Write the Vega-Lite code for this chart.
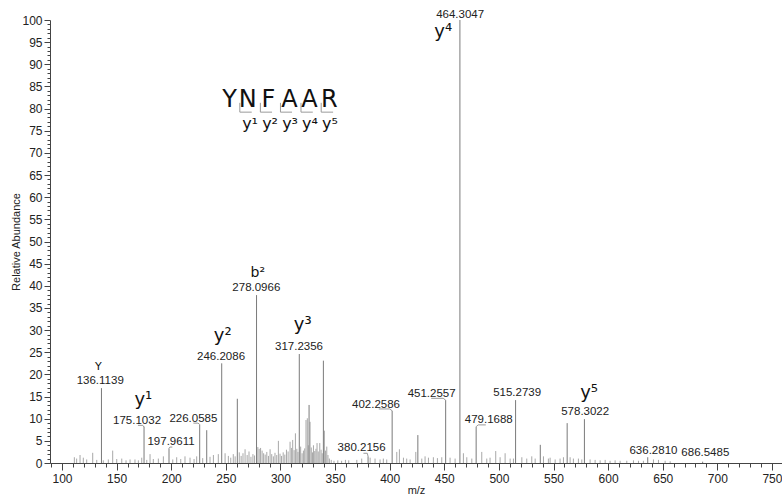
{
  "$schema": "https://vega.github.io/schema/vega-lite/v6.json",
  "width": 732,
  "height": 443,
  "autosize": {"type": "none"},
  "padding": {"left": 50, "top": 20, "right": 0, "bottom": 34},
  "background": "white",
  "config": {
    "view": {"stroke": null},
    "font": "Liberation Sans",
    "axis": {
      "domainColor": "#444",
      "tickColor": "#444",
      "labelColor": "#222",
      "titleColor": "#222",
      "labelFont": "Liberation Sans",
      "titleFont": "Liberation Sans",
      "labelFontSize": 12,
      "titleFontSize": 11,
      "titleFontWeight": "normal",
      "grid": false,
      "labelOverlap": false,
      "labelFlush": false
    }
  },
  "datasets": {
    "major": [
      {"mz": 136.1139, "int": 16.9},
      {"mz": 175.1032, "int": 8.2},
      {"mz": 197.9611, "int": 3.3},
      {"mz": 226.0585, "int": 8.7},
      {"mz": 232.5, "int": 7.4},
      {"mz": 246.2086, "int": 22.5},
      {"mz": 260.5, "int": 14.5},
      {"mz": 278.0966, "int": 37.9},
      {"mz": 317.2356, "int": 24.6},
      {"mz": 326.2, "int": 13.1},
      {"mz": 339.3, "int": 23.1},
      {"mz": 380.2156, "int": 1.5},
      {"mz": 402.2586, "int": 11.8},
      {"mz": 425.8, "int": 6.3},
      {"mz": 451.2557, "int": 14.2},
      {"mz": 464.3047, "int": 100},
      {"mz": 479.1688, "int": 8.2},
      {"mz": 515.2739, "int": 14.2},
      {"mz": 537.9, "int": 4.1},
      {"mz": 562.5, "int": 9.0},
      {"mz": 578.3022, "int": 9.9},
      {"mz": 636.281, "int": 1.3},
      {"mz": 686.5485, "int": 0.3}
    ],
    "noise": [
      {"mz": 111.3, "int": 1.3}, {"mz": 113.4, "int": 1.0}, {"mz": 116.5, "int": 1.8},
      {"mz": 119.5, "int": 1.2}, {"mz": 122.6, "int": 0.8}, {"mz": 128.1, "int": 2.3},
      {"mz": 131.8, "int": 0.7}, {"mz": 137.8, "int": 0.6}, {"mz": 142.4, "int": 0.8},
      {"mz": 146.4, "int": 2.8}, {"mz": 150.1, "int": 0.9}, {"mz": 154.7, "int": 1.0},
      {"mz": 158.6, "int": 0.6}, {"mz": 162.3, "int": 0.8}, {"mz": 166.8, "int": 0.8},
      {"mz": 169.9, "int": 0.6}, {"mz": 173.0, "int": 1.2}, {"mz": 177.6, "int": 0.7},
      {"mz": 180.6, "int": 2.0}, {"mz": 183.6, "int": 0.9}, {"mz": 188.2, "int": 1.0},
      {"mz": 192.8, "int": 1.5}, {"mz": 201.4, "int": 0.8}, {"mz": 205.0, "int": 1.3},
      {"mz": 208.7, "int": 0.9}, {"mz": 212.6, "int": 1.5}, {"mz": 217.2, "int": 1.2},
      {"mz": 220.9, "int": 0.9}, {"mz": 223.3, "int": 1.5}, {"mz": 228.8, "int": 1.1},
      {"mz": 235.5, "int": 1.4}, {"mz": 238.6, "int": 1.8}, {"mz": 243.1, "int": 2.0},
      {"mz": 249.3, "int": 2.2}, {"mz": 252.3, "int": 1.6}, {"mz": 254.5, "int": 1.2},
      {"mz": 256.8, "int": 2.0}, {"mz": 258.5, "int": 1.5}, {"mz": 262.3, "int": 2.4},
      {"mz": 264.0, "int": 1.6}, {"mz": 265.7, "int": 2.2}, {"mz": 267.6, "int": 3.1},
      {"mz": 269.5, "int": 1.8}, {"mz": 271.2, "int": 2.6}, {"mz": 273.0, "int": 1.4},
      {"mz": 274.8, "int": 2.0}, {"mz": 276.3, "int": 1.7}, {"mz": 279.3, "int": 3.6},
      {"mz": 280.5, "int": 3.2}, {"mz": 281.8, "int": 3.4}, {"mz": 283.2, "int": 2.8},
      {"mz": 284.6, "int": 2.2}, {"mz": 286.0, "int": 1.9}, {"mz": 287.5, "int": 2.5},
      {"mz": 289.0, "int": 1.6}, {"mz": 290.5, "int": 3.1}, {"mz": 292.0, "int": 2.0},
      {"mz": 293.5, "int": 1.5}, {"mz": 295.0, "int": 2.3}, {"mz": 296.6, "int": 1.8},
      {"mz": 298.1, "int": 5.0}, {"mz": 299.6, "int": 2.1}, {"mz": 301.0, "int": 1.6},
      {"mz": 302.5, "int": 2.4}, {"mz": 304.0, "int": 1.9}, {"mz": 305.5, "int": 3.0},
      {"mz": 307.0, "int": 2.6}, {"mz": 308.8, "int": 4.8}, {"mz": 310.0, "int": 3.4},
      {"mz": 311.2, "int": 5.2}, {"mz": 312.5, "int": 2.9}, {"mz": 313.7, "int": 6.7},
      {"mz": 315.0, "int": 3.2}, {"mz": 316.0, "int": 2.5}, {"mz": 318.5, "int": 3.7},
      {"mz": 319.8, "int": 2.2}, {"mz": 321.0, "int": 2.8}, {"mz": 322.2, "int": 3.3},
      {"mz": 323.4, "int": 9.7}, {"mz": 324.6, "int": 10.1}, {"mz": 325.4, "int": 4.0},
      {"mz": 327.1, "int": 9.3}, {"mz": 328.2, "int": 3.5}, {"mz": 329.3, "int": 2.4},
      {"mz": 330.2, "int": 4.0}, {"mz": 331.4, "int": 2.7}, {"mz": 332.5, "int": 3.2},
      {"mz": 333.5, "int": 4.5}, {"mz": 334.6, "int": 2.6}, {"mz": 336.0, "int": 4.5},
      {"mz": 337.2, "int": 3.0}, {"mz": 338.2, "int": 2.2}, {"mz": 340.2, "int": 7.3},
      {"mz": 341.3, "int": 2.8}, {"mz": 342.4, "int": 3.7}, {"mz": 343.5, "int": 1.8},
      {"mz": 344.8, "int": 1.0}, {"mz": 346.5, "int": 0.7}, {"mz": 349.0, "int": 0.5},
      {"mz": 352.5, "int": 0.6}, {"mz": 356.0, "int": 0.5}, {"mz": 359.5, "int": 0.7},
      {"mz": 362.5, "int": 0.6}, {"mz": 369.9, "int": 0.7}, {"mz": 374.4, "int": 1.0},
      {"mz": 382.1, "int": 1.2}, {"mz": 386.6, "int": 1.0}, {"mz": 391.2, "int": 0.8},
      {"mz": 394.2, "int": 1.0}, {"mz": 397.3, "int": 0.8}, {"mz": 406.5, "int": 2.5},
      {"mz": 408.9, "int": 3.1}, {"mz": 412.6, "int": 1.2}, {"mz": 415.6, "int": 1.0},
      {"mz": 418.7, "int": 0.8}, {"mz": 423.9, "int": 2.5}, {"mz": 429.4, "int": 1.0},
      {"mz": 432.4, "int": 1.5}, {"mz": 435.5, "int": 1.2}, {"mz": 440.0, "int": 1.3},
      {"mz": 443.7, "int": 1.1}, {"mz": 447.7, "int": 1.3}, {"mz": 455.3, "int": 1.2},
      {"mz": 459.9, "int": 1.0}, {"mz": 467.5, "int": 2.2}, {"mz": 470.6, "int": 1.3},
      {"mz": 475.2, "int": 1.0}, {"mz": 484.3, "int": 2.5}, {"mz": 488.9, "int": 1.0},
      {"mz": 491.9, "int": 1.2}, {"mz": 497.1, "int": 2.7}, {"mz": 501.1, "int": 1.3},
      {"mz": 505.7, "int": 2.2}, {"mz": 510.3, "int": 1.0}, {"mz": 513.3, "int": 1.0},
      {"mz": 521.0, "int": 1.3}, {"mz": 525.5, "int": 1.0}, {"mz": 530.1, "int": 1.5},
      {"mz": 533.2, "int": 1.0}, {"mz": 540.8, "int": 1.5}, {"mz": 545.3, "int": 1.0},
      {"mz": 546.9, "int": 1.2}, {"mz": 551.5, "int": 0.8}, {"mz": 556.0, "int": 1.0},
      {"mz": 559.1, "int": 1.3}, {"mz": 565.2, "int": 1.3}, {"mz": 568.2, "int": 1.0},
      {"mz": 572.8, "int": 1.0}, {"mz": 575.9, "int": 0.8}, {"mz": 583.5, "int": 0.8},
      {"mz": 588.1, "int": 0.7}, {"mz": 592.7, "int": 0.6}, {"mz": 597.3, "int": 0.7},
      {"mz": 601.8, "int": 0.5}, {"mz": 606.4, "int": 0.6}, {"mz": 611.0, "int": 0.5},
      {"mz": 617.1, "int": 0.5}, {"mz": 623.2, "int": 0.6}, {"mz": 627.8, "int": 0.5},
      {"mz": 632.3, "int": 0.5}, {"mz": 641.5, "int": 0.8}, {"mz": 646.1, "int": 0.7},
      {"mz": 652.2, "int": 0.5}, {"mz": 656.8, "int": 0.4}
    ],
    "vlabels": [
      {"mz": 135.0, "int": 18.5, "text": "136.1139"},
      {"mz": 168.7, "int": 9.5, "text": "175.1032"},
      {"mz": 199.8, "int": 4.7, "text": "197.9611"},
      {"mz": 220.3, "int": 9.9, "text": "226.0585"},
      {"mz": 245.6, "int": 24.0, "text": "246.2086"},
      {"mz": 277.9, "int": 39.6, "text": "278.0966"},
      {"mz": 317.0, "int": 26.1, "text": "317.2356"},
      {"mz": 374.3, "int": 3.3, "text": "380.2156"},
      {"mz": 387.5, "int": 13.1, "text": "402.2586"},
      {"mz": 438.4, "int": 15.6, "text": "451.2557"},
      {"mz": 464.5, "int": 101.2, "text": "464.3047"},
      {"mz": 490.7, "int": 9.7, "text": "479.1688"},
      {"mz": 516.7, "int": 15.8, "text": "515.2739"},
      {"mz": 579.0, "int": 11.4, "text": "578.3022"},
      {"mz": 641.5, "int": 2.6, "text": "636.2810"},
      {"mz": 689.0, "int": 2.3, "text": "686.5485"}
    ],
    "ions": [
      {"mz": 133.3, "int": 21.7, "text": "Y", "kind": "small"},
      {"mz": 279.2, "int": 42.8, "text": "b²", "kind": "mid"},
      {"mz": 174.5, "int": 14.3, "text": "y¹", "kind": "large"},
      {"mz": 247.1, "int": 28.6, "text": "y²", "kind": "large"},
      {"mz": 320.4, "int": 31.1, "text": "y³", "kind": "large"},
      {"mz": 449.0, "int": 97.3, "text": "y⁴", "kind": "large"},
      {"mz": 582.6, "int": 15.8, "text": "y⁵", "kind": "large"}
    ],
    "seq": [
      {"mz": 253.5, "int": 81.9, "text": "Y"},
      {"mz": 270.0, "int": 81.9, "text": "N"},
      {"mz": 289.0, "int": 81.9, "text": "F"},
      {"mz": 308.3, "int": 81.9, "text": "A"},
      {"mz": 326.6, "int": 81.9, "text": "A"},
      {"mz": 344.8, "int": 81.9, "text": "R"}
    ],
    "frag": [
      {"mz": 272.2, "int": 76.6, "text": "y¹"},
      {"mz": 290.5, "int": 76.6, "text": "y²"},
      {"mz": 308.8, "int": 76.6, "text": "y³"},
      {"mz": 327.1, "int": 76.6, "text": "y⁴"},
      {"mz": 345.4, "int": 76.6, "text": "y⁵"}
    ],
    "lines": [
      {"id": "b1", "o": 1, "mz": 262.8, "int": 81.3}, {"id": "b1", "o": 2, "mz": 262.8, "int": 79.2}, {"id": "b1", "o": 3, "mz": 273.7, "int": 79.2},
      {"id": "b2", "o": 1, "mz": 281.6, "int": 81.3}, {"id": "b2", "o": 2, "mz": 281.6, "int": 79.2}, {"id": "b2", "o": 3, "mz": 292.3, "int": 79.2},
      {"id": "b3", "o": 1, "mz": 300.0, "int": 81.3}, {"id": "b3", "o": 2, "mz": 300.0, "int": 79.2}, {"id": "b3", "o": 3, "mz": 310.6, "int": 79.2},
      {"id": "b4", "o": 1, "mz": 318.8, "int": 81.3}, {"id": "b4", "o": 2, "mz": 318.8, "int": 79.2}, {"id": "b4", "o": 3, "mz": 329.6, "int": 79.2},
      {"id": "b5", "o": 1, "mz": 337.3, "int": 81.3}, {"id": "b5", "o": 2, "mz": 337.3, "int": 79.2}, {"id": "b5", "o": 3, "mz": 348.2, "int": 79.2},
      {"id": "l175", "o": 1, "mz": 169.5, "int": 8.5}, {"id": "l175", "o": 2, "mz": 174.0, "int": 8.5}, {"id": "l175", "o": 3, "mz": 175.1032, "int": 8.1},
      {"id": "l197", "o": 1, "mz": 197.9611, "int": 3.3}, {"id": "l197", "o": 2, "mz": 198.8, "int": 3.6}, {"id": "l197", "o": 3, "mz": 201.0, "int": 3.6},
      {"id": "l226", "o": 1, "mz": 220.3, "int": 9.0}, {"id": "l226", "o": 2, "mz": 224.5, "int": 9.0}, {"id": "l226", "o": 3, "mz": 226.0585, "int": 8.7},
      {"id": "l380", "o": 1, "mz": 376.0, "int": 2.2}, {"id": "l380", "o": 2, "mz": 379.5, "int": 2.2}, {"id": "l380", "o": 3, "mz": 380.2156, "int": 1.5},
      {"id": "l402", "o": 1, "mz": 390.0, "int": 12.2}, {"id": "l402", "o": 2, "mz": 400.0, "int": 12.2}, {"id": "l402", "o": 3, "mz": 402.2586, "int": 11.8},
      {"id": "l451", "o": 1, "mz": 438.0, "int": 14.6}, {"id": "l451", "o": 2, "mz": 449.0, "int": 14.6}, {"id": "l451", "o": 3, "mz": 451.2557, "int": 14.2},
      {"id": "l479", "o": 1, "mz": 488.0, "int": 8.6}, {"id": "l479", "o": 2, "mz": 481.0, "int": 8.6}, {"id": "l479", "o": 3, "mz": 479.1688, "int": 8.2}
    ]
  },
  "encoding": {
    "x": {
      "field": "mz", "type": "quantitative",
      "scale": {"domain": [89, 759.2], "nice": false, "zero": false},
      "axis": {
        "title": "m/z",
        "titlePadding": 0,
        "values": [90,100,110,120,130,140,150,160,170,180,190,200,210,220,230,240,250,260,270,280,290,300,310,320,330,340,350,360,370,380,390,400,410,420,430,440,450,460,470,480,490,500,510,520,530,540,550,560,570,580,590,600,610,620,630,640,650,660,670,680,690,700,710,720,730,740,750],
        "labelExpr": "datum.value % 50 === 0 ? datum.label : ''",
        "tickSize": {"condition": {"test": "datum.value % 50 === 0", "value": 7}, "value": 4},
        "labelPadding": 3
      }
    },
    "y": {
      "field": "int", "type": "quantitative",
      "scale": {"domain": [0, 100], "nice": false},
      "axis": {
        "title": "Relative Abundance",
        "titlePadding": 0,
        "values": [0,1,2,3,4,5,6,7,8,9,10,11,12,13,14,15,16,17,18,19,20,21,22,23,24,25,26,27,28,29,30,31,32,33,34,35,36,37,38,39,40,41,42,43,44,45,46,47,48,49,50,51,52,53,54,55,56,57,58,59,60,61,62,63,64,65,66,67,68,69,70,71,72,73,74,75,76,77,78,79,80,81,82,83,84,85,86,87,88,89,90,91,92,93,94,95,96,97,98,99,100],
        "labelExpr": "datum.value % 5 === 0 ? datum.label : ''",
        "tickSize": {"condition": {"test": "datum.value % 5 === 0", "value": 6}, "value": 3},
        "labelPadding": 2
      }
    }
  },
  "layer": [
    {
      "data": {"name": "noise"},
      "mark": {"type": "rule", "color": "#a8a8a8", "strokeWidth": 1},
      "encoding": {"y2": {"datum": 0}}
    },
    {
      "data": {"name": "major"},
      "mark": {"type": "rule", "color": "#7a7a7a", "strokeWidth": 1},
      "encoding": {"y2": {"datum": 0}}
    },
    {
      "data": {"name": "lines"},
      "mark": {"type": "line", "color": "#9a9a9a", "strokeWidth": 1},
      "encoding": {"detail": {"field": "id"}, "order": {"field": "o"}}
    },
    {
      "data": {"name": "vlabels"},
      "mark": {"type": "text", "font": "Liberation Sans", "fontSize": 11.5, "color": "#222", "baseline": "middle"},
      "encoding": {"text": {"field": "text"}}
    },
    {
      "data": {"name": "ions"},
      "transform": [{"filter": "datum.kind === 'large'"}],
      "mark": {"type": "text", "font": "DejaVu Sans", "fontSize": 18, "color": "#111", "baseline": "middle"},
      "encoding": {"text": {"field": "text"}}
    },
    {
      "data": {"name": "ions"},
      "transform": [{"filter": "datum.kind === 'mid'"}],
      "mark": {"type": "text", "font": "DejaVu Sans", "fontSize": 14, "color": "#111", "baseline": "middle"},
      "encoding": {"text": {"field": "text"}}
    },
    {
      "data": {"name": "ions"},
      "transform": [{"filter": "datum.kind === 'small'"}],
      "mark": {"type": "text", "font": "DejaVu Sans", "fontSize": 11, "color": "#111", "baseline": "middle"},
      "encoding": {"text": {"field": "text"}}
    },
    {
      "data": {"name": "seq"},
      "mark": {"type": "text", "font": "DejaVu Sans", "fontSize": 24, "color": "#111", "baseline": "middle"},
      "encoding": {"text": {"field": "text"}}
    },
    {
      "data": {"name": "frag"},
      "mark": {"type": "text", "font": "DejaVu Sans", "fontSize": 16, "color": "#111", "baseline": "middle"},
      "encoding": {"text": {"field": "text"}}
    }
  ]
}
